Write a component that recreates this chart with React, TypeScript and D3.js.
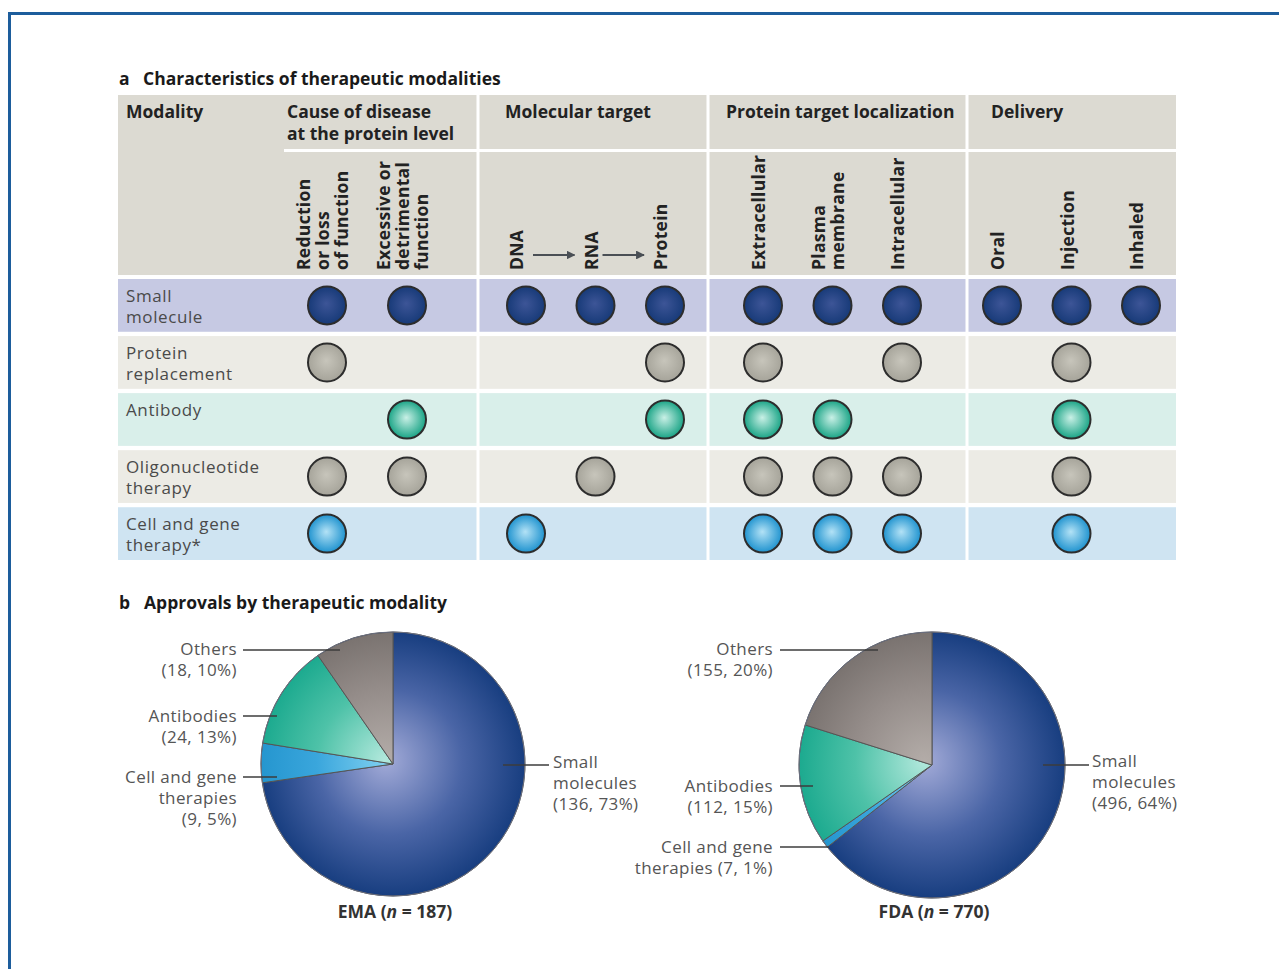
import React from 'react';
import * as d3 from 'd3';

// table a
const groupLabels = [['Cause of disease', 'at the protein level'], ['Molecular target'], ['Protein target localization'], ['Delivery']];
const columnLabels = [
  ['Reduction', 'or loss', 'of function'],
  ['Excessive or', 'detrimental', 'function'],
  ['DNA'], ['RNA'], ['Protein'],
  ['Extracellular'], ['Plasma', 'membrane'], ['Intracellular'],
  ['Oral'], ['Injection'], ['Inhaled'],
];
const columnGroup = [0, 0, 1, 1, 1, 2, 2, 2, 3, 3, 3];
const modalities = [['Small', 'molecule'], ['Protein', 'replacement'], ['Antibody'], ['Oligonucleotide', 'therapy'], ['Cell and gene', 'therapy*']];
const smallMolecule = [1, 1, 1, 1, 1, 1, 1, 1, 1, 1, 1];
const proteinReplacement = [1, 0, 0, 0, 1, 1, 0, 1, 0, 1, 0];
const antibody = [0, 1, 0, 0, 1, 1, 1, 0, 0, 1, 0];
const oligonucleotide = [1, 1, 0, 1, 0, 1, 1, 1, 0, 1, 0];
const cellGene = [1, 0, 1, 0, 0, 1, 1, 1, 0, 1, 0];
const matrix = [smallMolecule, proteinReplacement, antibody, oligonucleotide, cellGene];

// pies b
const pieCategories = ['Small molecules', 'Cell and gene therapies', 'Antibodies', 'Others'];
const emaCounts = [136, 9, 24, 18];
const emaPercents = [73, 5, 13, 10];
const fdaCounts = [496, 7, 112, 155];
const fdaPercents = [64, 1, 15, 20];

const font = '"Open Sans", Lato, sans-serif';

const rowFill = ['#c6c9e3', '#ecebe5', '#d9efea', '#ecebe5', '#cfe4f2'];
const dotStyle = [
  { id: 'dotNavy', inner: '#3d5597', outer: '#173a78' },
  { id: 'dotGrey', inner: '#c7c5bb', outer: '#a6a49a' },
  { id: 'dotTeal', inner: '#c9f0e6', outer: '#1aa486' },
  { id: 'dotGrey', inner: '#c7c5bb', outer: '#a6a49a' },
  { id: 'dotBlue', inner: '#b3e2f6', outer: '#1f93cf' },
];
const sliceStyle = [
  { inner: '#a3abd8', mid: '#4a65a6', outer: '#183e80' },
  { inner: '#7fd0f0', mid: '#3aa6dc', outer: '#2596cf' },
  { inner: '#b2e8dc', mid: '#4ec2a8', outer: '#1caa8f' },
  { inner: '#b3aca8', mid: '#958d8a', outer: '#7a7370' },
];

// group extents and column centre ranges
const groupBounds = [[118, 478], [478, 708], [708, 967], [967, 1176]];
const groupLabelX = [287, 505, 726, 991];
const groupColRange = [[327, 407], [526, 665], [763, 902], [1002, 1141]];

function colX(i: number) {
  const g = columnGroup[i];
  const cols = columnGroup.map((gg, j) => (gg === g ? j : -1)).filter(j => j >= 0);
  const s = d3.scalePoint<number>().domain(cols).range(groupColRange[g] as [number, number]);
  return s(i) as number;
}

const rowScale = d3.scaleBand<number>().domain(d3.range(modalities.length)).range([279, 560]).paddingInner(0.075);

type PieLabel = { lines: string[]; x: number; y: number; anchor: 'start' | 'end'; lineY: number; x1: number; x2: number };

function Pie({ id, cx, cy, r, counts, name, n, labels }: { id: string; cx: number; cy: number; r: number; counts: number[]; name: string; n: number; labels: PieLabel[] }) {
  const pie = d3.pie<number>().sort(null).value(d => d);
  const arc = d3.arc<d3.PieArcDatum<number>>().innerRadius(0).outerRadius(r);
  const arcs = pie(counts);
  return (
    <g>
      <defs>
        {sliceStyle.map((s, i) => (
          <radialGradient key={i} id={`${id}-${i}`} gradientUnits="userSpaceOnUse" cx={0} cy={0} r={r} fx={-8} fy={-4}>
            <stop offset="0%" stopColor={s.inner} />
            <stop offset="55%" stopColor={s.mid} />
            <stop offset="100%" stopColor={s.outer} />
          </radialGradient>
        ))}
      </defs>
      <g transform={`translate(${cx},${cy})`}>
        {arcs.map((a, i) => (
          <path key={i} d={arc(a) || ''} fill={`url(#${id}-${i})`} stroke="#555" strokeWidth={1} />
        ))}
        <circle r={r} fill="none" stroke="#6a6f80" strokeWidth={1} />
      </g>
      {labels.map((l, i) => (
        <g key={i}>
          <line x1={l.x1} x2={l.x2} y1={l.lineY} y2={l.lineY} stroke="#3d3d3d" strokeWidth={1.6} />
          <text x={l.x} y={l.y} textAnchor={l.anchor} fontSize={17} letterSpacing={0.4} fill="#555">
            {l.lines.map((t, k) => (
              <tspan key={k} x={l.x} dy={k === 0 ? 0 : 21}>{t}</tspan>
            ))}
          </text>
        </g>
      ))}
      <text x={cx + 2} y={918} textAnchor="middle" fontSize={17.5} fontWeight="bold" fill="#333">
        {name} (<tspan fontStyle="italic">n</tspan> = {n})
      </text>
    </g>
  );
}

export default function App() {
  const rotBottom = 270;
  const lab = (i: number) => `(${emaCounts[i]}, ${emaPercents[i]}%)`;
  const labF = (i: number) => `(${fdaCounts[i]}, ${fdaPercents[i]}%)`;

  const emaLabels: PieLabel[] = [
    { lines: ['Small', 'molecules', lab(0)], x: 553, y: 768, anchor: 'start', lineY: 765, x1: 503, x2: 549 },
    { lines: ['Cell and gene', 'therapies', lab(1)], x: 237, y: 783, anchor: 'end', lineY: 777, x1: 243, x2: 277 },
    { lines: [pieCategories[2], lab(2)], x: 237, y: 722, anchor: 'end', lineY: 716, x1: 243, x2: 277 },
    { lines: [pieCategories[3], lab(3)], x: 237, y: 655, anchor: 'end', lineY: 650, x1: 243, x2: 340 },
  ];
  const fdaLabels: PieLabel[] = [
    { lines: ['Small', 'molecules', labF(0)], x: 1092, y: 767, anchor: 'start', lineY: 765, x1: 1043, x2: 1089 },
    { lines: ['Cell and gene', `therapies ${labF(1)}`], x: 773, y: 853, anchor: 'end', lineY: 847, x1: 780, x2: 829 },
    { lines: [pieCategories[2], labF(2)], x: 773, y: 792, anchor: 'end', lineY: 786, x1: 780, x2: 813 },
    { lines: [pieCategories[3], labF(3)], x: 773, y: 655, anchor: 'end', lineY: 650, x1: 780, x2: 878 },
  ];

  return (
    <svg width={1279} height={969} style={{ position: 'absolute', left: 0, top: 0, background: '#fff' }} fontFamily={font}>
      <defs>
        {dotStyle.map((d, i) => (
          <radialGradient key={i} id={d.id} cx="50%" cy="50%" r="50%" fx="48%" fy="45%">
            <stop offset="0%" stopColor={d.inner} />
            <stop offset="100%" stopColor={d.outer} />
          </radialGradient>
        ))}
        <marker id="arrow" viewBox="0 0 10 10" refX={9} refY={5} markerWidth={4} markerHeight={4} orient="auto">
          <path d="M0,0 L10,5 L0,10 z" fill="#4a4f55" />
        </marker>
      </defs>

      {/* page frame */}
      <line x1={8} x2={1279} y1={13.5} y2={13.5} stroke="#1d5d9c" strokeWidth={3} />
      <line x1={9.5} x2={9.5} y1={12} y2={969} stroke="#1d5d9c" strokeWidth={3} />

      {/* a */}
      <text y={85} fontSize={17.5} fontWeight="bold" fill="#1a1a1a">
        <tspan x={119}>a</tspan>
        <tspan x={143}>Characteristics of therapeutic modalities</tspan>
      </text>

      <rect x={118} y={95} width={1058} height={180} fill="#dcdad2" />
      <line x1={284} x2={1176} y1={150.5} y2={150.5} stroke="#fff" strokeWidth={3} />
      <line x1={118} x2={1176} y1={277} y2={277} stroke="#fff" strokeWidth={3.5} />
      <text x={126} y={118} fontSize={17.5} fontWeight="bold" fill="#222">Modality</text>
      {groupLabels.map((g, i) => (
        <text key={i} x={groupLabelX[i]} y={118} fontSize={17.5} fontWeight="bold" fill="#222">
          {g.map((t, k) => <tspan key={k} x={groupLabelX[i]} dy={k === 0 ? 0 : 22}>{t}</tspan>)}
        </text>
      ))}
      {columnLabels.map((lines, i) => {
        const x0 = colX(i) - 5 - ((lines.length - 1) / 2) * 19 - (i === 2 ? 5 : 0);
        return lines.map((t, k) => (
          <text key={`${i}-${k}`} transform={`translate(${x0 + k * 19},${rotBottom}) rotate(-90)`} fontSize={17.5} letterSpacing={0.3} fontWeight="bold" fill="#222" dominantBaseline="central">{t}</text>
        ));
      })}
      {[2, 3].map(i => (
        <line key={i} x1={colX(i) + 7} x2={colX(i + 1) - 21} y1={255} y2={255} stroke="#4a4f55" strokeWidth={2.2} markerEnd="url(#arrow)" />
      ))}

      {modalities.map((m, r) => {
        const y = rowScale(r) as number;
        return (
          <g key={r}>
            <rect x={118} y={y} width={1058} height={rowScale.bandwidth()} fill={rowFill[r]} />
            <text x={126} y={y + 23} fontSize={17} letterSpacing={0.6} fill="#4a4a4a">
              {m.map((t, k) => <tspan key={k} x={126} dy={k === 0 ? 0 : 21}>{t}</tspan>)}
            </text>
            {matrix[r].map((v, c) => v ? (
              <circle key={c} cx={colX(c)} cy={y + rowScale.bandwidth() / 2} r={19} fill={`url(#${dotStyle[r].id})`} stroke="#2d2d2d" strokeWidth={2} />
            ) : null)}
          </g>
        );
      })}
      {groupBounds.slice(1).map((b, i) => (
        <line key={i} x1={b[0]} x2={b[0]} y1={95} y2={560} stroke="#fff" strokeWidth={3} />
      ))}

      {/* b */}
      <text y={609} fontSize={17.5} fontWeight="bold" fill="#1a1a1a">
        <tspan x={119}>b</tspan>
        <tspan x={144}>Approvals by therapeutic modality</tspan>
      </text>
      <Pie id="ema" cx={393} cy={764} r={132} counts={emaCounts} name="EMA" n={d3.sum(emaCounts)} labels={emaLabels} />
      <Pie id="fda" cx={932} cy={765} r={133} counts={fdaCounts} name="FDA" n={d3.sum(fdaCounts)} labels={fdaLabels} />
    </svg>
  );
}
